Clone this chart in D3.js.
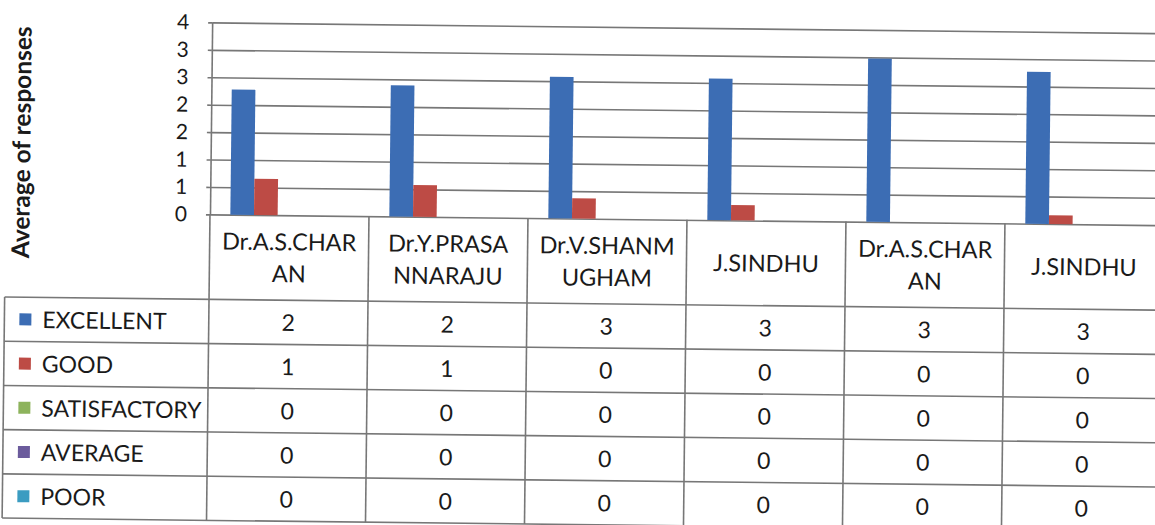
<!DOCTYPE html>
<html>
<head>
<meta charset="utf-8">
<script src="https://cdnjs.cloudflare.com/ajax/libs/d3/7.8.5/d3.min.js"></script>
<style>
body{margin:0;background:#fff;}
svg{display:block;font-family:Lato,"Open Sans",sans-serif;}
</style>
</head>
<body>
<script>
// chart data
var categories = ["Dr.A.S.CHARAN", "Dr.Y.PRASANNARAJU", "Dr.V.SHANMUGHAM", "J.SINDHU", "Dr.A.S.CHARAN", "J.SINDHU"];
var headerLines = [["Dr.A.S.CHAR", "AN"], ["Dr.Y.PRASA", "NNARAJU"], ["Dr.V.SHANM", "UGHAM"], ["J.SINDHU"], ["Dr.A.S.CHAR", "AN"], ["J.SINDHU"]];
var seriesNames = ["EXCELLENT", "GOOD", "SATISFACTORY", "AVERAGE", "POOR"];
var seriesColors = ["#3c6db4", "#bd4b45", "#8db35c", "#6b5b9c", "#3b9cc1"];
var excellent = [2.28, 2.39, 2.58, 2.58, 2.98, 2.77];
var good = [0.66, 0.58, 0.37, 0.28, 0, 0.16];
var satisfactory = [0, 0, 0, 0, 0, 0];
var average = [0, 0, 0, 0, 0, 0];
var poor = [0, 0, 0, 0, 0, 0];
var yTicks = [0, 0.5, 1, 1.5, 2, 2.5, 3, 3.5];
var yTitle = "Average of responses";

var allSeries = [excellent, good, satisfactory, average, poor];
// excel shows the numbers with format "0" (half rounds up)
var fmt = function(v){ return String(Math.floor(v + 0.5)); };

var W = 1155, H = 525;
var plotLeft = 212.4, colW = 159, plotTop = 20, base = 212;
var boxLeft = 8, rowTop = 297, rowH = 44.2;
var lineCol = "#777", textCol = "#1a1a1a";

var svg = d3.select("body").append("svg")
	.attr("width", W)
	.attr("height", H);
// the scan is tilted a little
var g = svg.append("g").attr("transform", "rotate(0.65)");

var x = d3.scaleBand()
	.domain(d3.range(categories.length))
	.range([plotLeft, plotLeft + colW * categories.length]);
var xs = d3.scaleBand()
	.domain(seriesNames)
	.range([0, x.bandwidth()])
	.paddingOuter(0.86);
var y = d3.scaleLinear().domain([0, 3.5]).range([base, plotTop]);
var plotRight = plotLeft + colW * categories.length;

// grid lines
g.append("g")
	.attr("transform", "translate(" + plotLeft + ",0)")
	.call(d3.axisLeft(y).tickValues(yTicks).tickSize(-(plotRight - plotLeft)).tickFormat(""))
	.call(function(a){
		a.select(".domain").remove();
		a.selectAll("line").attr("stroke", lineCol).attr("stroke-width", 1.6);
	});

// value axis with labels
g.append("g")
	.attr("transform", "translate(" + plotLeft + ",0)")
	.call(d3.axisLeft(y).tickValues(yTicks).tickSize(4).tickSizeOuter(0).tickPadding(19).tickFormat(fmt))
	.call(function(a){
		a.select(".domain").attr("stroke", lineCol).attr("stroke-width", 1.6);
		a.selectAll("line").attr("stroke", lineCol).attr("stroke-width", 1.6);
		a.selectAll("text")
			.attr("font-family", "Lato")
			.attr("font-size", 21)
			.attr("fill", textCol);
	});

// bars
allSeries.forEach(function(vals, s){
	g.append("g").selectAll("rect")
		.data(vals)
		.enter().append("rect")
			.attr("x", function(d, i){ return x(i) + xs(seriesNames[s]); })
			.attr("y", function(d){ return y(d); })
			.attr("width", xs.bandwidth())
			.attr("height", function(d){ return base - y(d); })
			.attr("fill", seriesColors[s]);
});

// data table
var tableBottom = rowTop + rowH * seriesNames.length;
var tbl = g.append("g").attr("stroke", lineCol).attr("stroke-width", 1.6);
d3.range(seriesNames.length + 1).forEach(function(r){
	tbl.append("line")
		.attr("x1", boxLeft).attr("x2", plotRight)
		.attr("y1", rowTop + r * rowH).attr("y2", rowTop + r * rowH);
});
d3.range(categories.length + 1).forEach(function(c){
	var xx = c < categories.length ? x(c) : plotRight;
	tbl.append("line")
		.attr("x1", xx).attr("x2", xx)
		.attr("y1", base).attr("y2", tableBottom);
});
tbl.append("line")
	.attr("x1", boxLeft).attr("x2", boxLeft)
	.attr("y1", rowTop).attr("y2", tableBottom);

// header cells
headerLines.forEach(function(lines, i){
	var cy = (base + rowTop) / 2;
	var t = g.append("text")
		.attr("text-anchor", "middle")
		.attr("font-size", 23.5)
		.attr("fill", textCol);
	lines.forEach(function(l, k){
		t.append("tspan")
			.attr("x", x(i) + colW / 2)
			.attr("y", cy + 8.5 + (k - (lines.length - 1) / 2) * 32)
			.text(l);
	});
});

// legend cells and numbers
seriesNames.forEach(function(name, s){
	var cy = rowTop + s * rowH + rowH / 2;
	g.append("rect")
		.attr("x", 23).attr("y", cy - 6)
		.attr("width", 12).attr("height", 12)
		.attr("fill", seriesColors[s]);
	g.append("text")
		.attr("x", 46).attr("y", cy + 8.5)
		.attr("font-size", 23)
		.attr("fill", textCol)
		.text(name);
	allSeries[s].forEach(function(v, i){
		g.append("text")
			.attr("x", x(i) + colW / 2).attr("y", cy + 8.5)
			.attr("text-anchor", "middle")
			.attr("font-size", 23)
			.attr("fill", textCol)
			.text(fmt(v));
	});
});

// axis title
g.append("text")
	.attr("transform", "translate(32,142) rotate(-90)")
	.attr("text-anchor", "middle")
	.attr("font-size", 24.5)
	.attr("font-weight", "bold")
	.attr("fill", textCol)
	.text(yTitle);
</script>
</body>
</html>
